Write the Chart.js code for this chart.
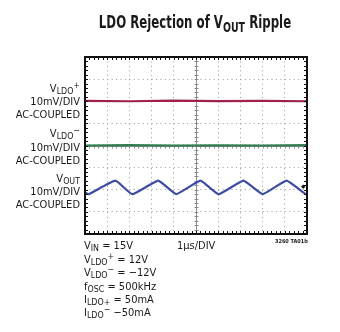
<!DOCTYPE html>
<html>
<head>
<meta charset="utf-8">
<script src="https://cdn.jsdelivr.net/npm/chart.js@4"></script>
<style>
  html, body { margin: 0; padding: 0; background: #fff; }
  #wrap { position: relative; width: 340px; height: 332px; overflow: hidden; }
  #scope { position: absolute; left: 0; top: 0; }
  .t { position: absolute; white-space: nowrap; color: #1a1a1a;
       font-family: "Liberation Sans Narrow", "DejaVu Sans Condensed", "Liberation Sans", sans-serif;
       font-size: 11px; line-height: 11px; }
  .r { text-align: right; right: 260px; }
  .title { font-size: 17px; line-height: 17px; font-weight: bold; left: 0; width: 390px; text-align: center;
           transform: scaleX(0.77); transform-origin: 195px 0; }
  .sub { font-size: 0.8em; position: relative; top: 0.28em; }
  .sup { font-size: 0.8em; position: relative; top: -0.45em; }
  .tiny { font-size: 5.5px; line-height: 5.5px; font-weight: bold; }
</style>
</head>
<body>
<div id="wrap">
  <canvas id="scope" width="340" height="332"></canvas>

  <div class="t title" style="top:14px">LDO Rejection of V<span class="sub">OUT</span> Ripple</div>

  <div class="t r" style="top:83px">V<span class="sub">LDO</span><span class="sup">+</span></div>
  <div class="t r" style="top:95.5px">10mV/DIV</div>
  <div class="t r" style="top:108.5px">AC-COUPLED</div>

  <div class="t r" style="top:128px">V<span class="sub">LDO</span><span class="sup">&minus;</span></div>
  <div class="t r" style="top:141.5px">10mV/DIV</div>
  <div class="t r" style="top:155px">AC-COUPLED</div>

  <div class="t r" style="top:173px">V<span class="sub">OUT</span></div>
  <div class="t r" style="top:186px">10mV/DIV</div>
  <div class="t r" style="top:198.5px">AC-COUPLED</div>

  <div class="t" style="left:84px;top:240px">V<span class="sub">IN</span> = 15V</div>
  <div class="t" style="left:177px;top:240px">1µs/DIV</div>
  <div class="t tiny" style="left:275px;top:239px">3260 TA01b</div>
  <div class="t" style="left:84px;top:253.5px">V<span class="sub">LDO</span><span class="sup">+</span> = 12V</div>
  <div class="t" style="left:84px;top:267px">V<span class="sub">LDO</span><span class="sup">&minus;</span> = &minus;12V</div>
  <div class="t" style="left:84px;top:280.5px">f<span class="sub">OSC</span> = 500kHz</div>
  <div class="t" style="left:84px;top:293.5px">I<span class="sub">LDO+</span> = 50mA</div>
  <div class="t" style="left:84px;top:307px">I<span class="sub">LDO</span><span class="sup">&minus;</span> &minus;50mA</div>
</div>

<script>
// scope traces, in divisions (x: 0..10 at 1µs/DIV, y: 0..8 at 10mV/DIV)
const ldoPosX = [0, 2, 4, 6, 8, 10];
const ldoPosY = [6.02, 6.0, 6.03, 6.01, 6.02, 6.0];

const ldoNegX = [0, 2, 4, 6, 8, 10];
const ldoNegY = [4.0, 4.02, 4.0, 4.01, 4.0, 4.02];

const voutX = [0, 0.17, 1.37, 2.13, 3.30, 4.11, 5.20, 6.01, 7.14, 8.00, 9.08, 9.93, 10];
const voutY = [1.87, 1.80, 2.41, 1.80, 2.41, 1.80, 2.41, 1.80, 2.41, 1.80, 2.41, 1.80, 1.83];

// ground/trigger marker at right edge of VOUT trace
const markerX = [9.83];
const markerY = [2.14];

const toPoints = (xs, ys) => xs.map((x, i) => ({ x: x, y: ys[i] }));

// frame, center graticule and its minor ticks
const graticule = {
    id: 'graticule',
    beforeDatasetsDraw(chart) {
        const { ctx, chartArea: a, scales: { x, y } } = chart;
        ctx.save();
        ctx.strokeStyle = '#8a8a8a';
        ctx.lineWidth = 1;
        const cx = Math.round(x.getPixelForValue(5)) + 0.5;
        const cy = Math.round(y.getPixelForValue(4)) + 0.5;
        ctx.beginPath();
        ctx.moveTo(cx, a.top); ctx.lineTo(cx, a.bottom);
        ctx.moveTo(a.left, cy); ctx.lineTo(a.right, cy);
        for (let v = 0; v <= 10; v += 0.2) {
            const px = Math.round(x.getPixelForValue(v)) + 0.5;
            ctx.moveTo(px, cy - 2); ctx.lineTo(px, cy + 2);
        }
        for (let v = 0; v <= 8; v += 0.2) {
            const py = Math.round(y.getPixelForValue(v)) + 0.5;
            ctx.moveTo(cx - 2, py); ctx.lineTo(cx + 2, py);
        }
        ctx.stroke();
        ctx.restore();
    },
    afterDatasetsDraw(chart) {
        const { ctx, chartArea: a, scales: { x, y } } = chart;
        ctx.save();
        ctx.strokeStyle = '#111';
        ctx.lineWidth = 2;
        ctx.strokeRect(a.left, a.top, a.right - a.left, a.bottom - a.top);
        ctx.lineWidth = 1;
        ctx.beginPath();
        for (let v = 0.2; v < 10; v += 0.2) {
            const px = Math.round(x.getPixelForValue(v)) + 0.5;
            ctx.moveTo(px, a.top); ctx.lineTo(px, a.top + 3);
            ctx.moveTo(px, a.bottom); ctx.lineTo(px, a.bottom - 3);
        }
        for (let v = 0.2; v < 8; v += 0.2) {
            const py = Math.round(y.getPixelForValue(v)) + 0.5;
            ctx.moveTo(a.left, py); ctx.lineTo(a.left + 3, py);
            ctx.moveTo(a.right, py); ctx.lineTo(a.right - 3, py);
        }
        ctx.stroke();
        ctx.restore();
    }
};

const gridOpts = {
    display: true,
    drawTicks: false,
    color: '#9a9a9a',
    lineWidth: 1
};

new Chart(document.getElementById('scope'), {
    type: 'line',
    data: {
        datasets: [
            {
                label: 'VLDO+',
                data: toPoints(ldoPosX, ldoPosY),
                borderColor: '#a1214e',
                borderWidth: 2.2,
                pointRadius: 0
            },
            {
                label: 'VLDO-',
                data: toPoints(ldoNegX, ldoNegY),
                borderColor: '#2f7d52',
                borderWidth: 2.2,
                pointRadius: 0
            },
            {
                label: 'VOUT',
                data: toPoints(voutX, voutY),
                borderColor: '#3e4ca3',
                borderWidth: 2.2,
                borderJoinStyle: 'round',
                tension: 0.12,
                pointRadius: 0
            },
            {
                label: 'marker',
                data: toPoints(markerX, markerY),
                showLine: false,
                pointStyle: 'rectRot',
                pointRadius: 2.2,
                backgroundColor: '#111',
                borderColor: '#111',
                borderWidth: 0
            }
        ]
    },
    options: {
        responsive: false,
        animation: false,
        events: [],
        layout: { padding: { left: 85, right: 33, top: 57, bottom: 98 } },
        plugins: {
            legend: { display: false },
            tooltip: { enabled: false }
        },
        scales: {
            x: {
                type: 'linear',
                min: 0,
                max: 10,
                ticks: { display: false, stepSize: 1 },
                grid: gridOpts,
                border: { display: false, dash: [1, 3.44] },
                afterFit: s => { s.height = 0; }
            },
            y: {
                type: 'linear',
                min: 0,
                max: 8,
                ticks: { display: false, stepSize: 1 },
                grid: gridOpts,
                border: { display: false, dash: [1, 3.44] },
                afterFit: s => { s.width = 0; }
            }
        }
    },
    plugins: [graticule]
});
</script>
</body>
</html>
